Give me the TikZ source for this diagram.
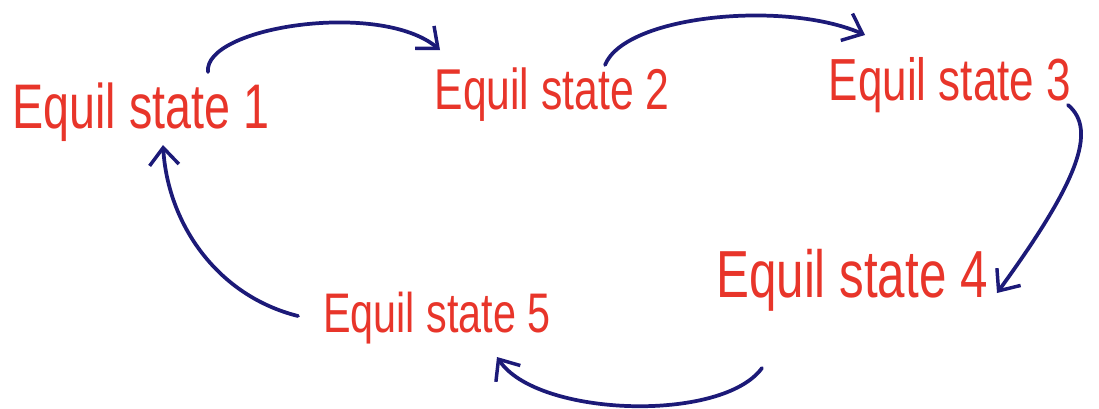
\documentclass[tikz,border=0pt]{standalone}
\usepackage{fontspec}
\setmainfont{Liberation Sans}
\usetikzlibrary{arrows.meta}
\definecolor{inkred}{HTML}{E8352A}
\definecolor{inknavy}{HTML}{1C1A78}
\tikzset{
  state/.style={text=inkred, inner sep=0pt, yscale=1.35},
  flow/.style={draw=inknavy, line width=2.8pt, line cap=round,
    -{Straight Barb[length=13pt,width=22pt,line width=2.6pt]}}
}
\begin{document}
\begin{tikzpicture}[x=0.75pt,y=-0.75pt]
\useasboundingbox (0,0) rectangle (1099,408);
\node[state, font=\fontsize{35}{40}\selectfont] (s1) at (141,112) {Equil state 1};
\node[state, font=\fontsize{32}{38}\selectfont] (s2) at (552,95) {Equil state 2};
\node[state, font=\fontsize{33}{38}\selectfont] (s3) at (950,85) {Equil state 3};
\node[state, font=\fontsize{37}{42}\selectfont] (s4) at (852,280) {Equil state 4};
\node[state, font=\fontsize{31}{36}\selectfont] (s5) at (437,318) {Equil state 5};
\draw[flow] ([shift={(67,-40)}]s1.center) .. controls +(-5,-45) and +(-60,-50) .. ([shift={(-112,-45)}]s2.center);
\draw[flow] ([shift={(53,-30)}]s2.center) .. controls +(20,-50) and +(-80,-35) .. ([shift={(-85,-50)}]s3.center);
\draw[flow] ([shift={(118,20)}]s3.center) .. controls +(30,25) and +(80,-110) .. ([shift={(145,13)}]s4.center);
\draw[flow] ([shift={(-90,88)}]s4.center) .. controls +(-40,55) and +(40,60) .. ([shift={(60,39)}]s5.center);
\draw[flow] ([shift={(-139,-2)}]s5.center) .. controls +(-80,-20) and +(5,80) .. ([shift={(22,33)}]s1.center);
\end{tikzpicture}
\end{document}
